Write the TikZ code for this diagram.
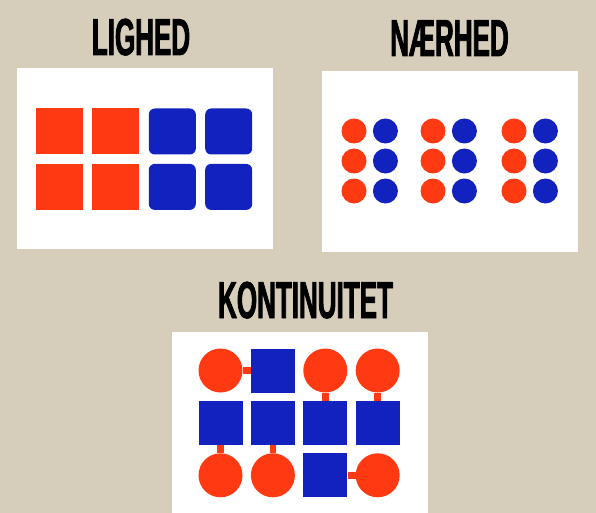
\documentclass[tikz,border=0pt]{standalone}
\usepackage{fontspec}
\newfontfamily\headfont[FakeStretch=0.5,FakeBold=1.5]{Liberation Sans}
\usepackage{xcolor}
\definecolor{sand}{HTML}{D6CDBB}
\definecolor{signalred}{HTML}{FF3A12}
\definecolor{deepblue}{HTML}{1122BE}
\usepackage{tikz}
\usetikzlibrary{positioning}

\begin{document}
\begin{tikzpicture}[
  x=1pt,y=-1pt,
  heading/.style={font=\headfont\bfseries\fontsize{52}{52}\selectfont,anchor=base,inner sep=0pt},
  panel/.style={fill=white},
  redsq/.style={fill=signalred,minimum width=47pt,minimum height=46pt,inner sep=0pt},
  bluesq/.style={fill=deepblue,rounded corners=6pt,minimum width=47pt,minimum height=46pt,inner sep=0pt},
  dot/.style={circle,minimum size=25pt,inner sep=0pt},
  ball/.style={circle,fill=signalred,minimum size=44pt,inner sep=0pt},
  block/.style={fill=deepblue,minimum size=44pt,inner sep=0pt},
  link/.style={draw=signalred,line width=6.5pt}
]
\useasboundingbox (0,0) rectangle (596,513);
\fill[sand] (0,0) rectangle (596,513);

% lighed
\node[heading] (lighed) at (141,55) {LIGHED};
\fill[panel] (17,68) rectangle (273,249);
\node[redsq] (l11) at (59.5,131.5) {};
\node[redsq,right=9pt of l11] (l12) {};
\node[bluesq,right=9pt of l12] (l13) {};
\node[bluesq,right=9pt of l13] (l14) {};
\node[redsq,below=9pt of l11] (l21) {};
\node[redsq,right=9pt of l21] (l22) {};
\node[bluesq,right=9pt of l22] (l23) {};
\node[bluesq,right=9pt of l23] (l24) {};

% naerhed
\node[heading] (naerhed) at (449.5,56) {NÆRHED};
\fill[panel] (322,71) rectangle (578,252);
\foreach \g/\gx in {1/354,2/433,3/514}
  \foreach \r/\ry in {1/131,2/161,3/191} {
    \node[dot,fill=signalred] (n\g\r a) at (\gx,\ry) {};
    \node[dot,fill=deepblue,right=6pt of n\g\r a] (n\g\r b) {};
  }

% kontinuitet
\node[heading] (kontinuitet) at (305.5,318) {KONTINUITET};
\fill[panel] (172,332) rectangle (428,513);
\node[ball] (k11) at (220.5,370.5) {};
\node[block,right=8pt of k11] (k12) {};
\node[ball,right=8pt of k12] (k13) {};
\node[ball,right=8pt of k13] (k14) {};
\node[block,below=8pt of k11] (k21) {};
\node[block,right=8pt of k21] (k22) {};
\node[block,right=8pt of k22] (k23) {};
\node[block,right=8pt of k23] (k24) {};
\node[ball,below=8pt of k21] (k31) {};
\node[ball,right=8pt of k31] (k32) {};
\node[block,right=8pt of k32] (k33) {};
\node[ball,right=8pt of k33] (k34) {};
\draw[link] (k11) -- (k12);
\draw[link] (k13) -- (k23);
\draw[link] (k14) -- (k24);
\draw[link] (k21) -- (k31);
\draw[link] (k22) -- (k32);
\draw[link] (k33) -- (k34);
\end{tikzpicture}
\end{document}
